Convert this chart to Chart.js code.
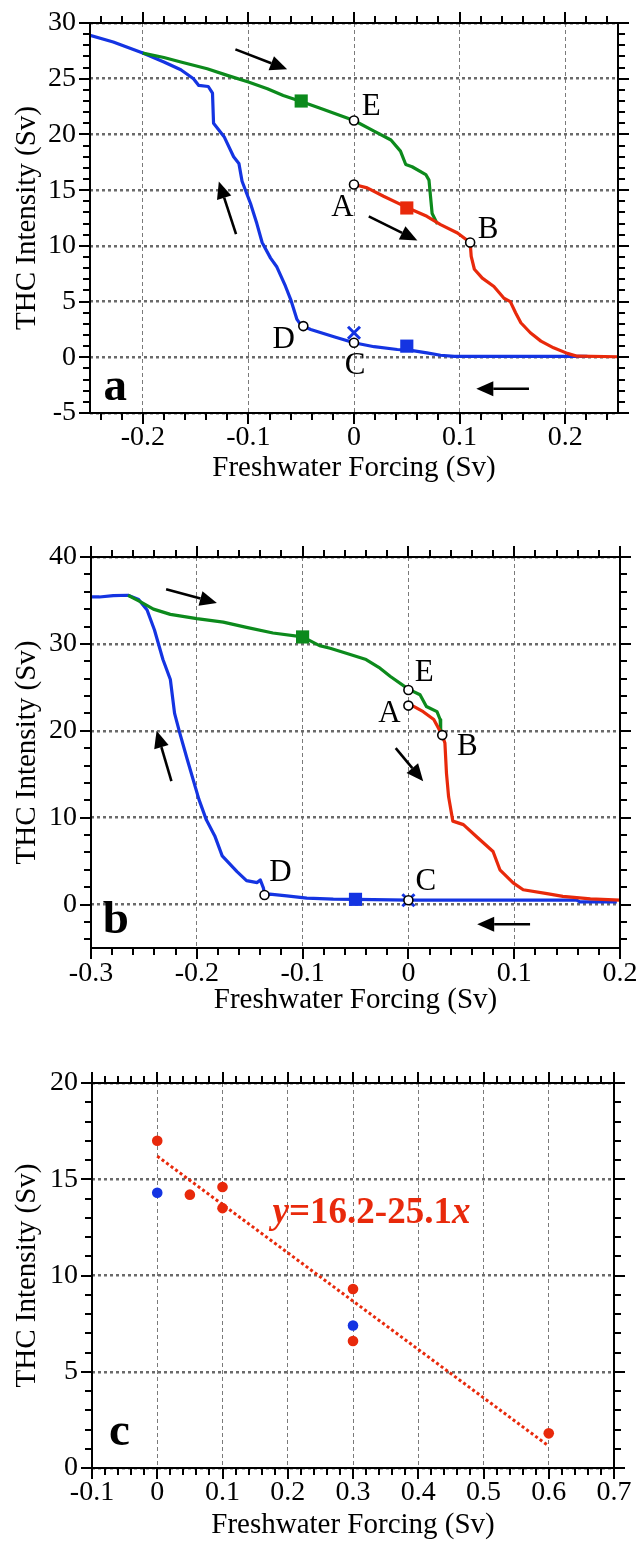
<!DOCTYPE html>
<html>
<head>
<meta charset="utf-8">
<script src="https://cdn.jsdelivr.net/npm/chart.js@4.4.1/dist/chart.umd.min.js"></script>
<style>
  html, body { margin: 0; padding: 0; background: #fff; }
  body { width: 637px; height: 1553px; position: relative; overflow: hidden; }
  canvas { position: absolute; left: 0; }
</style>
</head>
<body>
<canvas id="panelA" width="637" height="495" style="top:0px"></canvas>
<canvas id="panelB" width="637" height="530" style="top:500px"></canvas>
<canvas id="panelC" width="637" height="513" style="top:1040px"></canvas>
<script>
// ---------- Panel a: hysteresis, model 1 ----------
const aXTicks = [-0.2, -0.1, 0, 0.1, 0.2];
const aYTicks = [-5, 0, 5, 10, 15, 20, 25, 30];

const aBlueX = [-0.25, -0.228, -0.200, -0.180, -0.164, -0.152, -0.147, -0.138, -0.134, -0.133, -0.123, -0.114,
  -0.109, -0.106, -0.098, -0.092, -0.087, -0.079, -0.073, -0.065, -0.060, -0.054, -0.051, -0.048, -0.041,
  -0.019, 0.0, 0.019, 0.041, 0.054, 0.069, 0.082, 0.095, 0.221];
const aBlueY = [28.9, 28.3, 27.3, 26.5, 25.8, 25.0, 24.4, 24.3, 23.7, 21.0, 19.8, 18.0,
  17.4, 15.8, 13.8, 12.0, 10.3, 8.9, 8.1, 6.4, 5.2, 3.4, 3.0, 2.8, 2.5,
  1.85, 1.3, 0.95, 0.7, 0.62, 0.4, 0.18, 0.08, 0.08];

const aGreenX = [-0.200, -0.180, -0.164, -0.139, -0.120, -0.100, -0.082, -0.067, -0.050, -0.032, 0.0, 0.019,
  0.035, 0.044, 0.049, 0.055, 0.068, 0.071, 0.0725, 0.074, 0.079];
const aGreenY = [27.3, 26.9, 26.5, 25.9, 25.3, 24.7, 24.1, 23.5, 22.95, 22.35, 21.25, 20.3,
  19.5, 18.5, 17.3, 17.1, 16.4, 15.9, 14.4, 12.9, 11.95];

const aRedX = [0.0, 0.0125, 0.028, 0.050, 0.069, 0.082, 0.098, 0.110, 0.111, 0.114, 0.1215, 0.1325,
  0.142, 0.148, 0.153, 0.158, 0.167, 0.177, 0.189, 0.202, 0.2115, 0.25];
const aRedY = [15.5, 15.2, 14.45, 13.45, 12.65, 11.9, 11.15, 10.3, 9.05, 7.9, 7.1, 6.35,
  5.3, 5.0, 4.0, 3.1, 2.2, 1.45, 0.85, 0.35, 0.1, 0.05];

const aSquares = [[-0.05, 23.0, 'green'], [0.05, 13.4, 'red'], [0.05, 1.0, 'blue']];
const aCircleX = [0, 0.11, 0, -0.048, 0];          // A, B, C, D, E
const aCircleY = [15.5, 10.3, 1.3, 2.8, 21.25];
const aCross = [0, 2.2];
const aLabels = [['A', -0.011, 13.4], ['B', 0.127, 11.4], ['C', 0.001, -0.8], ['D', -0.0665, 1.55], ['E', 0.0163, 22.5]];
const aArrows = [[-0.1123, 27.63, -0.0633, 25.84], [-0.1117, 11.06, -0.128, 15.77],
  [0.014, 12.64, 0.060, 10.49], [0.1657, -2.83, 0.1158, -2.83]];

// ---------- Panel b: hysteresis, model 2 ----------
const bXTicks = [-0.3, -0.2, -0.1, 0, 0.1, 0.2];
const bYTicks = [0, 10, 20, 30, 40];

const bBlueX = [-0.300, -0.292, -0.279, -0.265, -0.255, -0.247, -0.240, -0.232, -0.225, -0.221, -0.216, -0.209,
  -0.198, -0.191, -0.183, -0.176, -0.162, -0.153, -0.143, -0.140, -0.137, -0.136, -0.131, -0.115, -0.096,
  -0.071, -0.05, 0.0, 0.159, 0.162, 0.197];
const bBlueY = [35.4, 35.4, 35.55, 35.6, 35.1, 33.9, 31.6, 28.2, 25.9, 22.0, 19.7, 16.7,
  12.1, 9.75, 7.9, 5.6, 3.8, 2.76, 2.53, 2.84, 1.9, 1.1, 1.2, 1.0, 0.75,
  0.62, 0.6, 0.5, 0.5, 0.3, 0.3];

const bGreenX = [-0.265, -0.254, -0.241, -0.225, -0.200, -0.175, -0.153, -0.128, -0.100, -0.084, -0.074, -0.058,
  -0.040, -0.028, -0.017, 0.0, 0.011, 0.017, 0.027, 0.030, 0.0305, 0.032];
const bGreenY = [35.6, 34.9, 34.0, 33.4, 32.9, 32.5, 31.9, 31.25, 30.8, 29.8, 29.5, 28.9,
  28.2, 27.3, 26.25, 24.8, 24.15, 22.8, 22.2, 21.3, 20.1, 19.5];

const bRedX = [0.0, 0.005, 0.014, 0.024, 0.032, 0.0345, 0.036, 0.038, 0.042, 0.052, 0.0645, 0.080,
  0.0865, 0.099, 0.1085, 0.131, 0.146, 0.172, 0.200];
const bRedY = [22.9, 22.8, 22.2, 21.3, 19.5, 18.6, 15.1, 12.4, 9.6, 9.2, 7.8, 6.1,
  4.0, 2.5, 1.7, 1.25, 0.95, 0.65, 0.5];

const bSquares = [[-0.1, 30.8, 'green'], [-0.05, 0.6, 'blue']];
const bCircleX = [0, 0.032, 0, -0.136, 0];         // A, B, C, D, E
const bCircleY = [22.9, 19.5, 0.5, 1.1, 24.7];
const bCross = [0, 0.5];
const bLabels = [['A', -0.018, 21.9], ['B', 0.0556, 18.1], ['C', 0.0166, 2.65], ['D', -0.121, 3.6], ['E', 0.015, 26.7]];
const bArrows = [[-0.229, 36.3, -0.181, 34.7], [-0.224, 14.2, -0.238, 20.0],
  [-0.012, 18.0, 0.014, 14.2], [0.115, -2.26, 0.065, -2.26]];

// ---------- Panel c: THC intensity vs. forcing ----------
const cXTicks = [-0.1, 0, 0.1, 0.2, 0.3, 0.4, 0.5, 0.6, 0.7];
const cYTicks = [0, 5, 10, 15, 20];
const cRedX = [0, 0.05, 0.1, 0.1, 0.3, 0.3, 0.6];
const cRedY = [17.0, 14.2, 14.6, 13.5, 9.3, 6.6, 1.8];
const cBlueX = [0, 0.3];
const cBlueY = [14.3, 7.4];
const fitIntercept = 16.2;
const fitSlope = -25.1;
const fitRange = [0, 0.6];

// ---------- styling ----------
const SERIF = '"Liberation Serif", "Times New Roman", serif';
const COLORS = { blue: '#1434e2', red: '#e8290b', green: '#0c8a1c' };

const pts = (xs, ys) => xs.map((x, i) => ({ x, y: ys[i] }));
const fmt = v => (Math.abs(v) < 1e-12 ? '0' : String(v));

const curve = (xs, ys, c) => ({ data: pts(xs, ys), showLine: true, borderColor: COLORS[c], borderWidth: 3.2,
  pointRadius: 0, tension: 0, borderJoinStyle: 'round', order: 5 });
const squares = list => list.map(([x, y, c]) => ({ data: [{ x, y }], pointStyle: 'rect', pointRadius: 9.3,
  backgroundColor: COLORS[c], borderColor: COLORS[c], borderWidth: 0, order: 3 }));
const rings = (xs, ys) => ({ data: pts(xs, ys), pointStyle: 'circle', pointRadius: 4.5,
  backgroundColor: '#fff', borderColor: '#000', borderWidth: 1.6, order: 1 });
const cross = ([x, y]) => ({ data: [{ x, y }], pointStyle: 'crossRot', pointRadius: 8.5,
  borderColor: COLORS.blue, borderWidth: 3, order: 2 });

function drawArrow(ctx, x1, y1, x2, y2) {
  const ang = Math.atan2(y2 - y1, x2 - x1);
  const L = 17, W = 7.5;
  const bx = x2 - L * Math.cos(ang), by = y2 - L * Math.sin(ang);
  ctx.beginPath(); ctx.moveTo(x1, y1); ctx.lineTo(bx, by); ctx.stroke();
  ctx.beginPath(); ctx.moveTo(x2, y2);
  ctx.lineTo(bx + W * Math.sin(ang), by - W * Math.cos(ang));
  ctx.lineTo(bx - W * Math.sin(ang), by + W * Math.cos(ang));
  ctx.closePath(); ctx.fill();
}

// frame with outward major/minor ticks, arrows, point labels, panel letter
const overlay = {
  id: 'overlay',
  afterDatasetsDraw(chart, args, o) {
    const { ctx, chartArea: a, scales: { x, y } } = chart;
    ctx.save();
    ctx.strokeStyle = '#000'; ctx.fillStyle = '#000'; ctx.lineWidth = 2; ctx.lineCap = 'butt';
    const isMajor = (v, m) => Math.abs(v / m - Math.round(v / m)) < 1e-6;
    ctx.beginPath();
    for (let k = Math.ceil(x.min / o.xMinor - 1e-6); k <= Math.floor(x.max / o.xMinor + 1e-6); k++) {
      const v = k * o.xMinor, p = Math.round(x.getPixelForValue(v));
      const len = isMajor(v, o.xMajor) ? 11 : 7;
      ctx.moveTo(p, a.top); ctx.lineTo(p, a.top - len);
      ctx.moveTo(p, a.bottom); ctx.lineTo(p, a.bottom + len);
    }
    for (let k = Math.ceil(y.min / o.yMinor - 1e-6); k <= Math.floor(y.max / o.yMinor + 1e-6); k++) {
      const v = k * o.yMinor, p = Math.round(y.getPixelForValue(v));
      const len = isMajor(v, o.yMajor) ? 11 : 7;
      ctx.moveTo(a.left, p); ctx.lineTo(a.left - len, p);
      ctx.moveTo(a.right, p); ctx.lineTo(a.right + len, p);
    }
    ctx.stroke();
    ctx.strokeRect(a.left, a.top, a.right - a.left, a.bottom - a.top);

    ctx.lineWidth = 2.6;
    (o.arrows || []).forEach(([x1, y1, x2, y2]) =>
      drawArrow(ctx, x.getPixelForValue(x1), y.getPixelForValue(y1), x.getPixelForValue(x2), y.getPixelForValue(y2)));

    ctx.textAlign = 'center'; ctx.textBaseline = 'middle';
    ctx.font = '31px ' + SERIF;
    (o.labels || []).forEach(([t, lx, ly]) => ctx.fillText(t, x.getPixelForValue(lx), y.getPixelForValue(ly)));

    if (o.panel) {
      ctx.font = 'bold 47px ' + SERIF; ctx.textBaseline = 'alphabetic';
      ctx.fillText(o.panel[0], x.getPixelForValue(o.panel[1]), y.getPixelForValue(o.panel[2]));
    }

    if (o.equation) {
      const [ex, ey] = o.equation;
      const parts = [['y', 'italic bold'], ['=' + fitIntercept + '-' + Math.abs(fitSlope), 'bold'], ['x', 'italic bold']];
      let px = x.getPixelForValue(ex);
      const py = y.getPixelForValue(ey);
      ctx.fillStyle = COLORS.red; ctx.textAlign = 'left'; ctx.textBaseline = 'middle';
      parts.forEach(([t, st]) => {
        ctx.font = st + ' 37px ' + SERIF;
        ctx.fillText(t, px, py);
        px += ctx.measureText(t).width;
      });
    }
    ctx.restore();
  }
};

function buildPanel(id, p) {
  new Chart(document.getElementById(id), {
    type: 'scatter',
    data: { datasets: p.datasets },
    options: {
      responsive: false, animation: false, devicePixelRatio: 1,
      layout: { padding: { left: 0, top: p.padTop, right: p.padRight, bottom: 0 } },
      plugins: { legend: { display: false }, tooltip: { enabled: false }, overlay: p.overlay },
      scales: {
        x: {
          type: 'linear', min: p.xMin, max: p.xMax,
          afterBuildTicks: s => { s.ticks = p.xTicks.map(v => ({ value: v })); },
          afterFit: s => { s.height = p.xAxisH; s.paddingLeft = 0; s.paddingRight = 0; },
          ticks: { font: { family: SERIF, size: 28 }, color: '#000', padding: p.xTickPad,
            maxRotation: 0, autoSkip: false, callback: v => fmt(v) },
          grid: { drawTicks: false, color: '#7a7a7a', lineWidth: 1 },
          border: { display: false, dash: [4, 3] },
          title: { display: true, text: 'Freshwater Forcing (Sv)', color: '#000',
            font: { family: SERIF, size: 29 }, padding: { top: 0, bottom: p.xTitlePad } }
        },
        y: {
          type: 'linear', min: p.yMin, max: p.yMax,
          afterBuildTicks: s => { s.ticks = p.yTicks.map(v => ({ value: v })); },
          afterFit: s => { s.width = p.yAxisW; s.paddingTop = 0; s.paddingBottom = 0; },
          ticks: { font: { family: SERIF, size: 28 }, color: '#000', padding: 14, autoSkip: false,
            callback: v => fmt(v) },
          grid: { drawTicks: false, color: '#6a6a6a', lineWidth: 2.5 },
          border: { display: false, dash: [3, 3] },
          title: { display: true, text: 'THC Intensity (Sv)', color: '#000',
            font: { family: SERIF, size: 29 }, padding: { top: 10, bottom: 0 } }
        }
      }
    },
    plugins: [overlay]
  });
}

buildPanel('panelA', {
  xMin: -0.25, xMax: 0.25, yMin: -5, yMax: 30, xTicks: aXTicks, yTicks: aYTicks,
  padTop: 23, padRight: 19, yAxisW: 90, xAxisH: 82, xTickPad: 8, xTitlePad: 9,
  datasets: [
    curve(aRedX, aRedY, 'red'), curve(aGreenX, aGreenY, 'green'), curve(aBlueX, aBlueY, 'blue'),
    ...squares(aSquares), cross(aCross), rings(aCircleX, aCircleY)
  ],
  overlay: { xMinor: 0.02, xMajor: 0.1, yMinor: 1, yMajor: 5, arrows: aArrows, labels: aLabels,
    panel: ['a', -0.226, -3.85] }
});

buildPanel('panelB', {
  xMin: -0.3, xMax: 0.2, yMin: -5, yMax: 40, xTicks: bXTicks, yTicks: bYTicks,
  padTop: 57, padRight: 17, yAxisW: 91, xAxisH: 82, xTickPad: 9, xTitlePad: 12,
  datasets: [
    curve(bRedX, bRedY, 'red'), curve(bGreenX, bGreenY, 'green'), curve(bBlueX, bBlueY, 'blue'),
    ...squares(bSquares), cross(bCross), rings(bCircleX, bCircleY)
  ],
  overlay: { xMinor: 0.02, xMajor: 0.1, yMinor: 2, yMajor: 10, arrows: bArrows, labels: bLabels,
    panel: ['b', -0.2765, -3.3] }
});

buildPanel('panelC', {
  xMin: -0.1, xMax: 0.7, yMin: 0, yMax: 20, xTicks: cXTicks, yTicks: cYTicks,
  padTop: 43, padRight: 23, yAxisW: 92, xAxisH: 85, xTickPad: 8, xTitlePad: 10,
  datasets: [
    { data: fitRange.map(x => ({ x, y: fitIntercept + fitSlope * x })), showLine: true,
      borderColor: COLORS.red, borderWidth: 3, borderDash: [3, 2.6], pointRadius: 0, order: 6 },
    { data: pts(cRedX, cRedY), pointStyle: 'circle', pointRadius: 5.3, backgroundColor: COLORS.red,
      borderColor: COLORS.red, borderWidth: 0, order: 2 },
    { data: pts(cBlueX, cBlueY), pointStyle: 'circle', pointRadius: 5.3, backgroundColor: COLORS.blue,
      borderColor: COLORS.blue, borderWidth: 0, order: 1 }
  ],
  overlay: { xMinor: 0.02, xMajor: 0.1, yMinor: 1, yMajor: 5, panel: ['c', -0.058, 1.19],
    equation: [0.1768, 13.25] }
});
</script>
</body>
</html>
